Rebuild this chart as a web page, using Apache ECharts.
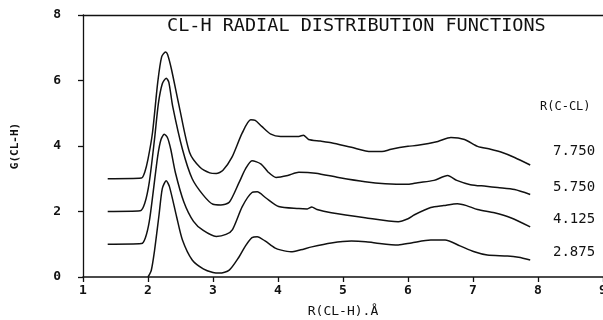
<!DOCTYPE html>
<html>
<head>
<meta charset="utf-8">
<script src="https://cdn.jsdelivr.net/npm/echarts@6/dist/echarts.min.js"></script>
<style>html,body{margin:0;padding:0;background:#fff}#c{width:603px;height:320px}</style>
</head>
<body>
<div id="c"></div>
<script>
// R(C-CL) = 7.750 (offset +3)
var x7750 = [1.38,1.90,1.95,2.00,2.07,2.15,2.21,2.27,2.30,2.36,2.48,2.64,2.80,2.95,3.05,3.15,3.29,3.45,3.58,3.65,3.75,3.89,4.04,4.20,4.32,4.39,4.47,4.65,4.82,5.13,5.43,5.60,5.74,6.00,6.15,6.46,6.66,6.87,7.07,7.27,7.45,7.64,7.88];
var y7750 = [3.0,3.02,3.2,3.6,4.42,5.95,6.72,6.87,6.8,6.35,5.21,3.8,3.35,3.18,3.16,3.25,3.65,4.4,4.8,4.78,4.6,4.36,4.29,4.29,4.29,4.33,4.2,4.15,4.1,3.96,3.83,3.83,3.9,3.99,4.02,4.14,4.26,4.2,3.99,3.9,3.8,3.65,3.42];
// R(C-CL) = 5.750 (offset +2)
var x5750 = [1.38,1.88,1.95,2.02,2.10,2.16,2.22,2.28,2.32,2.38,2.53,2.68,2.85,3.00,3.12,3.25,3.40,3.50,3.60,3.74,3.85,3.97,4.15,4.32,4.58,4.93,5.34,5.65,6.00,6.15,6.40,6.61,6.75,6.96,7.20,7.38,7.64,7.88];
var y5750 = [2.0,2.02,2.25,2.9,4.2,5.3,5.9,6.07,5.95,5.21,3.9,3.0,2.5,2.22,2.2,2.28,2.88,3.3,3.55,3.45,3.2,3.04,3.1,3.2,3.17,3.04,2.91,2.85,2.83,2.88,2.95,3.1,2.95,2.82,2.77,2.73,2.67,2.52];
// R(C-CL) = 4.125 (offset +1)
var x4125 = [1.38,1.90,1.96,2.02,2.08,2.15,2.20,2.25,2.30,2.35,2.42,2.55,2.70,2.85,3.05,3.20,3.30,3.45,3.60,3.68,3.81,4.01,4.32,4.45,4.52,4.60,4.82,5.34,5.85,6.00,6.10,6.35,6.55,6.76,6.90,7.07,7.33,7.58,7.88];
var y4125 = [1.0,1.02,1.2,1.7,2.6,3.7,4.2,4.36,4.25,3.9,3.2,2.3,1.7,1.42,1.24,1.3,1.45,2.15,2.58,2.6,2.42,2.15,2.09,2.08,2.14,2.06,1.96,1.81,1.69,1.78,1.9,2.12,2.18,2.24,2.18,2.06,1.96,1.81,1.53];
// R(C-CL) = 2.875 (offset 0)
var x2875 = [2.00,2.05,2.10,2.17,2.22,2.28,2.33,2.44,2.53,2.68,2.85,3.00,3.10,3.25,3.40,3.50,3.60,3.68,3.80,3.95,4.05,4.20,4.35,4.52,4.82,5.13,5.35,5.50,5.85,6.05,6.35,6.57,6.80,7.02,7.22,7.53,7.70,7.88];
var y2875 = [0.0,0.2,0.8,1.9,2.7,2.94,2.76,1.84,1.13,0.52,0.25,0.14,0.12,0.21,0.61,0.95,1.2,1.23,1.1,0.89,0.82,0.77,0.83,0.92,1.04,1.1,1.08,1.04,0.98,1.04,1.13,1.13,0.95,0.77,0.67,0.64,0.6,0.52];

var curveLabels = ['7.750','5.750','4.125','2.875'];
var legendTitle = 'R(C-CL)';
var chartTitle = 'CL-H RADIAL DISTRIBUTION FUNCTIONS';
var xName = 'R(CL-H).Å';
var yName = 'G(CL-H)';

function zip(a,b){return a.map(function(v,i){return [v,b[i]];});}
var FONT = 'DejaVu Sans Mono';
var chart = echarts.init(document.getElementById('c'), null, {renderer:'canvas'});
function line(xs,ys){
  return {type:'line', data:zip(xs,ys), showSymbol:false, smooth:0.25,
    lineStyle:{color:'#111', width:1.5}, animation:false};
}
var labelYs = [152,188,220,253];
var graphics = [{type:'text', left:540, top:101, style:{text:legendTitle, fill:'#111', font:'12px '+FONT}}];
curveLabels.forEach(function(t,i){
  graphics.push({type:'text', left:553, top:labelYs[i]-8, style:{text:t, fill:'#111', font:'14px '+FONT}});
});
graphics.push({type:'text', left:167, top:17, style:{text:chartTitle, fill:'#111', font:'18.5px '+FONT}});
chart.setOption({
  animation:false,
  backgroundColor:'#fff',
  grid:{left:83, right:0, top:15, bottom:43, show:false, outerBoundsMode:'none', containLabel:false},
  xAxis:[{type:'value', min:1, max:9, interval:1,
    axisLine:{lineStyle:{color:'#111', width:1.5}},
    axisTick:{length:5, lineStyle:{color:'#111', width:1.3}},
    splitLine:{show:false},
    axisLabel:{color:'#111', fontFamily:FONT, fontSize:13, fontWeight:'bold', margin:7,
               showMaxLabel:true, showMinLabel:true, hideOverlap:false},
    name:xName, nameLocation:'middle', nameGap:28,
    nameTextStyle:{color:'#111', fontFamily:FONT, fontSize:13}},
   {type:'value', position:'top', min:1, max:9, interval:1,
    axisLine:{show:true, lineStyle:{color:'#111', width:1.3}},
    axisTick:{show:false}, axisLabel:{show:false}, splitLine:{show:false}}],
  yAxis:{type:'value', min:0, max:8, interval:2,
    axisLine:{show:true, lineStyle:{color:'#111', width:1.3}},
    axisTick:{show:true, length:5, lineStyle:{color:'#111', width:1.3}},
    splitLine:{show:false},
    axisLabel:{color:'#111', fontFamily:FONT, fontSize:13, fontWeight:'bold', margin:22},
    name:yName, nameLocation:'middle', nameGap:62, nameRotate:90,
    nameTextStyle:{color:'#111', fontFamily:FONT, fontSize:11, fontWeight:'bold'}},
  graphic:graphics,
  series:[line(x7750,y7750), line(x5750,y5750), line(x4125,y4125), line(x2875,y2875)]
});
</script>
</body>
</html>
